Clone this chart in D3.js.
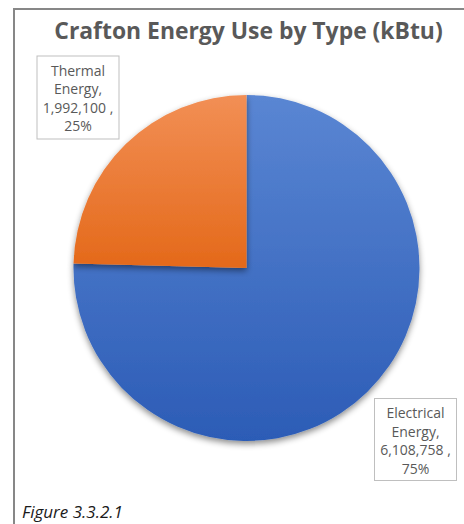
<!DOCTYPE html>
<html><head><meta charset="utf-8">
<script src="https://cdn.jsdelivr.net/npm/d3@7"></script>
<style>html,body{margin:0;padding:0;background:#fff;}svg{display:block;}</style>
</head><body>
<svg id="c" width="464" height="524"></svg>
<script>
const categories = ["Electrical Energy", "Thermal Energy"];
const values = [6108758, 1992100];
const percentLabels = ["75%", "25%"];
const valueLabels = ["6,108,758", "1,992,100"];
const title = "Crafton Energy Use by Type (kBtu)";
const caption = "Figure 3.3.2.1";

const svg = d3.select("#c");
const W = 464, H = 524;
const cx = 246.5, cy = 268, r = 173;

// chart border (top and left visible)
svg.append("path").attr("d", `M14,${H} L14,9 L${W},9`)
  .attr("fill","none").attr("stroke","#878787").attr("stroke-width",2);

const defs = svg.append("defs");
const f = defs.append("filter").attr("id","sh").attr("x","-20%").attr("y","-20%").attr("width","140%").attr("height","140%");
f.append("feDropShadow").attr("dx",0).attr("dy",3).attr("stdDeviation",3).attr("flood-color","#000").attr("flood-opacity",0.45);

const grads = [["#5a86d3","#2c5cb6"],["#f28f55","#e4691a"]];
grads.forEach((g,i)=>{
  const lg = defs.append("linearGradient").attr("id","g"+i).attr("x1",0).attr("y1",0).attr("x2",0).attr("y2",1);
  lg.append("stop").attr("offset","0%").attr("stop-color",g[0]);
  lg.append("stop").attr("offset","100%").attr("stop-color",g[1]);
});

const pie = d3.pie().sort(null).value(d=>d)(values);
const arc = d3.arc().innerRadius(0).outerRadius(r);
const gP = svg.append("g").attr("transform",`translate(${cx},${cy})`);
gP.selectAll("path").data(pie).join("path")
  .attr("d", arc)
  .attr("fill",(d,i)=>`url(#g${i})`)
  .attr("filter","url(#sh)");

// title
svg.append("text").attr("x",248.5).attr("y",39).attr("text-anchor","middle")
  .attr("font-family","'Open Sans', sans-serif").attr("font-weight","bold")
  .attr("font-size",22.9).attr("fill","#595959").text(title);

// data labels
const boxes = [
  {x:374.5, y:398.5, w:82, h:82},
  {x:37, y:56, w:82, h:83}
];
pie.forEach((d,i)=>{
  const b = boxes[i];
  svg.append("rect").attr("x",b.x).attr("y",b.y).attr("width",b.w).attr("height",b.h)
    .attr("fill","#fff").attr("stroke","#bfbfbf").attr("stroke-width",1);
  const words = categories[i].split(" ");
  const lines = [words[0], words[1] + ",", valueLabels[i] + " ,", percentLabels[i]];
  const t = svg.append("text").attr("text-anchor","middle")
    .attr("font-family","'Open Sans', sans-serif").attr("font-size",14).attr("fill","#595959");
  lines.forEach((l,j)=>{
    t.append("tspan").attr("x",b.x + b.w/2).attr("y",b.y + 19.5 + j*18.5).text(l);
  });
});

// caption
svg.append("text").attr("x",22).attr("y",518)
  .attr("font-family","'Open Sans', sans-serif").attr("font-style","italic")
  .attr("font-size",17).attr("fill","#1a1a1a").text(caption);
</script>
</body></html>
